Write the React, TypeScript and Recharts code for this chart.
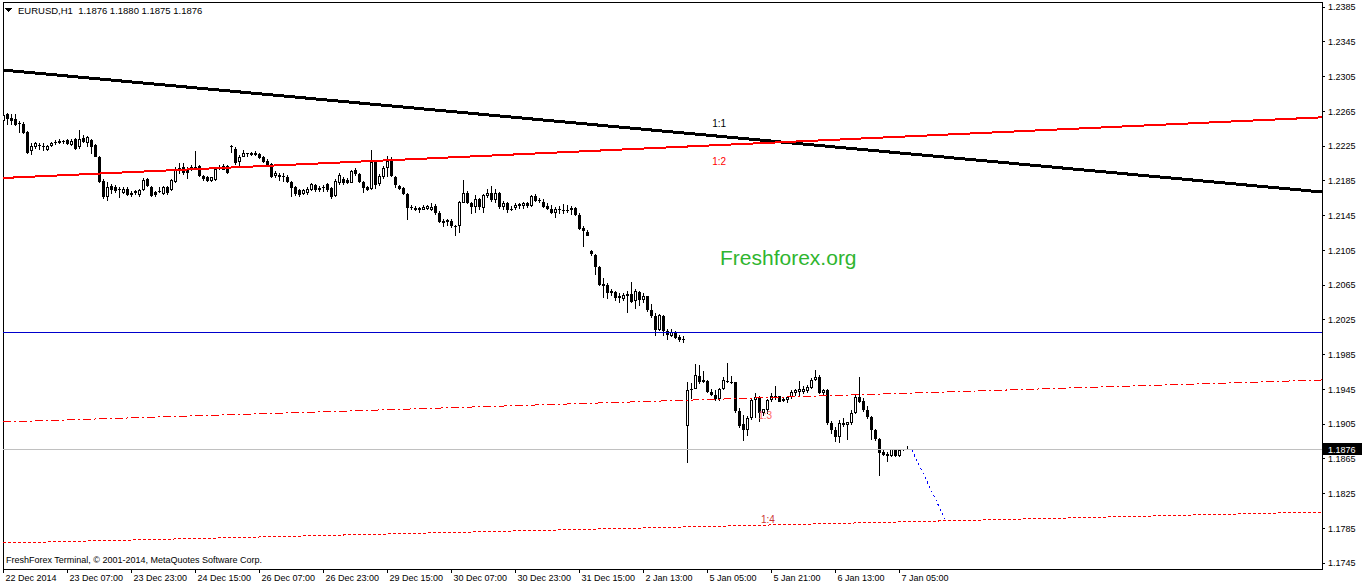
import React from 'react';
import { Bar, ComposedChart, ReferenceArea, ReferenceDot, ReferenceLine, XAxis, YAxis } from 'recharts';

const opens = [
  1.2254, 1.2262, 1.2257, 1.2256, 1.2251, 1.2250, 1.2241, 1.2219, 1.2224, 1.2226,
  1.2225, 1.2220, 1.2225, 1.2228, 1.2228, 1.2229, 1.2232, 1.2226, 1.2233, 1.2224,
  1.2234, 1.2229, 1.2232, 1.2226, 1.2213, 1.2185, 1.2167, 1.2179, 1.2178, 1.2175,
  1.2171, 1.2176, 1.2169, 1.2171, 1.2169, 1.2174, 1.2187, 1.2178, 1.2172, 1.2173,
  1.2170, 1.2178, 1.2174, 1.2184, 1.2196, 1.2201, 1.2199, 1.2197, 1.2198, 1.2202,
  1.2191, 1.2189, 1.2185, 1.2186, 1.2199, 1.2198, 1.2202, 1.2224, 1.2222, 1.2207,
  1.2213, 1.2215, 1.2215, 1.2217, 1.2216, 1.2212, 1.2208, 1.2204, 1.2191, 1.2192,
  1.2190, 1.2190, 1.2184, 1.2178, 1.2174, 1.2170, 1.2171, 1.2175, 1.2180, 1.2177,
  1.2176, 1.2181, 1.2177, 1.2168, 1.2182, 1.2187, 1.2186, 1.2183, 1.2197, 1.2193,
  1.2184, 1.2178, 1.2176, 1.2207, 1.2181, 1.2190, 1.2200, 1.2208, 1.2190, 1.2179,
  1.2177, 1.2170, 1.2154, 1.2152, 1.2154, 1.2152, 1.2153, 1.2151, 1.2156, 1.2148,
  1.2137, 1.2140, 1.2139, 1.2133, 1.2133, 1.2160, 1.2171, 1.2159, 1.2155, 1.2164,
  1.2154, 1.2168, 1.2171, 1.2163, 1.2171, 1.2155, 1.2160, 1.2151, 1.2154, 1.2156,
  1.2156, 1.2160, 1.2156, 1.2168, 1.2162, 1.2161, 1.2156, 1.2153, 1.2148, 1.2153,
  1.2152, 1.2150, 1.2154, 1.2154, 1.2146, 1.2131, 1.2126, 1.2104, 1.2100, 1.2086,
  1.2066, 1.2065, 1.2056, 1.2057, 1.2050, 1.2049, 1.2052, 1.2055, 1.2047, 1.2057,
  1.2048, 1.2052, 1.2036, 1.2030, 1.2013, 1.2030, 1.2012, 1.2007, 1.2011, 1.2005,
  1.2003, 1.1903, 1.1944, 1.1946, 1.1961, 1.1953, 1.1955, 1.1942, 1.1939, 1.1934,
  1.1946, 1.1955, 1.1954, 1.1953, 1.1920, 1.1905, 1.1898, 1.1912, 1.1933, 1.1935,
  1.1918, 1.1921, 1.1933, 1.1936, 1.1937, 1.1932, 1.1933, 1.1936, 1.1941, 1.1942,
  1.1942, 1.1943, 1.1947, 1.1956, 1.1959, 1.1941, 1.1944, 1.1906, 1.1898, 1.1890,
  1.1906, 1.1904, 1.1906, 1.1918, 1.1936, 1.1932, 1.1921, 1.1913, 1.1898, 1.1888,
  1.1873, 1.1871, 1.1868, 1.1876, 1.1868, 1.1875, 1.1876,
];

const highs = [
  1.2263, 1.2263, 1.2262, 1.2262, 1.2254, 1.2253, 1.2242, 1.2229, 1.2230, 1.2229,
  1.2228, 1.2226, 1.2230, 1.2232, 1.2233, 1.2232, 1.2233, 1.2233, 1.2234, 1.2244,
  1.2238, 1.2237, 1.2233, 1.2227, 1.2214, 1.2187, 1.2184, 1.2181, 1.2180, 1.2178,
  1.2178, 1.2178, 1.2173, 1.2174, 1.2176, 1.2188, 1.2188, 1.2179, 1.2173, 1.2178,
  1.2179, 1.2179, 1.2187, 1.2201, 1.2205, 1.2206, 1.2201, 1.2203, 1.2219, 1.2203,
  1.2192, 1.2191, 1.2190, 1.2201, 1.2203, 1.2204, 1.2203, 1.2226, 1.2224, 1.2215,
  1.2220, 1.2217, 1.2218, 1.2219, 1.2217, 1.2214, 1.2210, 1.2205, 1.2196, 1.2194,
  1.2194, 1.2192, 1.2185, 1.2179, 1.2176, 1.2176, 1.2178, 1.2182, 1.2181, 1.2179,
  1.2180, 1.2182, 1.2178, 1.2187, 1.2194, 1.2190, 1.2188, 1.2197, 1.2200, 1.2194,
  1.2185, 1.2179, 1.2220, 1.2208, 1.2193, 1.2202, 1.2214, 1.2213, 1.2191, 1.2180,
  1.2178, 1.2171, 1.2157, 1.2156, 1.2155, 1.2157, 1.2157, 1.2160, 1.2158, 1.2150,
  1.2141, 1.2141, 1.2141, 1.2134, 1.2162, 1.2186, 1.2173, 1.2161, 1.2169, 1.2165,
  1.2170, 1.2176, 1.2179, 1.2176, 1.2172, 1.2162, 1.2161, 1.2156, 1.2159, 1.2160,
  1.2161, 1.2161, 1.2169, 1.2170, 1.2165, 1.2164, 1.2160, 1.2157, 1.2155, 1.2156,
  1.2158, 1.2157, 1.2156, 1.2155, 1.2148, 1.2133, 1.2128, 1.2106, 1.2101, 1.2087,
  1.2073, 1.2067, 1.2061, 1.2058, 1.2056, 1.2056, 1.2058, 1.2069, 1.2060, 1.2058,
  1.2056, 1.2053, 1.2043, 1.2033, 1.2032, 1.2031, 1.2014, 1.2014, 1.2012, 1.2008,
  1.2006, 1.1953, 1.1952, 1.1974, 1.1973, 1.1966, 1.1956, 1.1945, 1.1944, 1.1947,
  1.1959, 1.1975, 1.1960, 1.1954, 1.1924, 1.1916, 1.1914, 1.1935, 1.1941, 1.1937,
  1.1923, 1.1934, 1.1941, 1.1949, 1.1938, 1.1936, 1.1938, 1.1944, 1.1946, 1.1955,
  1.1949, 1.1950, 1.1958, 1.1967, 1.1962, 1.1945, 1.1945, 1.1909, 1.1902, 1.1910,
  1.1912, 1.1908, 1.1921, 1.1939, 1.1959, 1.1935, 1.1926, 1.1914, 1.1899, 1.1889,
  1.1876, 1.1873, 1.1877, 1.1877, 1.1876, 1.1877, 1.1880,
];

const lows = [
  1.2251, 1.2249, 1.2249, 1.2248, 1.2240, 1.2239, 1.2216, 1.2215, 1.2222, 1.2221,
  1.2219, 1.2219, 1.2224, 1.2226, 1.2227, 1.2227, 1.2226, 1.2225, 1.2221, 1.2222,
  1.2228, 1.2224, 1.2216, 1.2212, 1.2183, 1.2164, 1.2162, 1.2170, 1.2171, 1.2165,
  1.2170, 1.2168, 1.2166, 1.2169, 1.2167, 1.2173, 1.2178, 1.2167, 1.2167, 1.2171,
  1.2169, 1.2169, 1.2173, 1.2183, 1.2193, 1.2192, 1.2187, 1.2196, 1.2197, 1.2189,
  1.2185, 1.2184, 1.2184, 1.2185, 1.2197, 1.2197, 1.2193, 1.2217, 1.2203, 1.2202,
  1.2212, 1.2213, 1.2214, 1.2214, 1.2210, 1.2206, 1.2202, 1.2188, 1.2188, 1.2185,
  1.2184, 1.2183, 1.2167, 1.2168, 1.2167, 1.2169, 1.2169, 1.2173, 1.2172, 1.2172,
  1.2172, 1.2172, 1.2164, 1.2166, 1.2180, 1.2180, 1.2181, 1.2182, 1.2191, 1.2182,
  1.2171, 1.2173, 1.2175, 1.2176, 1.2179, 1.2187, 1.2190, 1.2189, 1.2177, 1.2175,
  1.2169, 1.2140, 1.2151, 1.2150, 1.2148, 1.2151, 1.2151, 1.2150, 1.2146, 1.2136,
  1.2132, 1.2133, 1.2131, 1.2122, 1.2125, 1.2159, 1.2158, 1.2147, 1.2148, 1.2152,
  1.2148, 1.2165, 1.2161, 1.2160, 1.2153, 1.2152, 1.2148, 1.2150, 1.2152, 1.2153,
  1.2153, 1.2154, 1.2155, 1.2161, 1.2159, 1.2154, 1.2151, 1.2147, 1.2142, 1.2147,
  1.2147, 1.2148, 1.2146, 1.2144, 1.2128, 1.2109, 1.2121, 1.2098, 1.2077, 1.2064,
  1.2050, 1.2049, 1.2052, 1.2047, 1.2044, 1.2047, 1.2033, 1.2044, 1.2037, 1.2041,
  1.2044, 1.2034, 1.2027, 1.2006, 1.2012, 1.2006, 1.2002, 1.2005, 1.2003, 1.2000,
  1.1999, 1.1860, 1.1934, 1.1945, 1.1951, 1.1952, 1.1941, 1.1937, 1.1932, 1.1932,
  1.1944, 1.1952, 1.1951, 1.1918, 1.1901, 1.1886, 1.1891, 1.1910, 1.1912, 1.1908,
  1.1914, 1.1917, 1.1931, 1.1933, 1.1930, 1.1930, 1.1929, 1.1934, 1.1937, 1.1937,
  1.1940, 1.1941, 1.1945, 1.1955, 1.1940, 1.1939, 1.1904, 1.1894, 1.1885, 1.1883,
  1.1902, 1.1887, 1.1904, 1.1917, 1.1929, 1.1919, 1.1911, 1.1887, 1.1886, 1.1845,
  1.1868, 1.1862, 1.1867, 1.1867, 1.1867, 1.1874, 1.1875,
];

const closes = [
  1.2261, 1.2256, 1.2254, 1.2249, 1.2250, 1.2240, 1.2217, 1.2225, 1.2229, 1.2225,
  1.2224, 1.2225, 1.2229, 1.2230, 1.2231, 1.2230, 1.2227, 1.2231, 1.2222, 1.2233,
  1.2230, 1.2235, 1.2224, 1.2213, 1.2184, 1.2167, 1.2178, 1.2174, 1.2173, 1.2174,
  1.2176, 1.2169, 1.2171, 1.2173, 1.2174, 1.2186, 1.2179, 1.2168, 1.2169, 1.2172,
  1.2178, 1.2171, 1.2186, 1.2197, 1.2200, 1.2194, 1.2194, 1.2201, 1.2201, 1.2191,
  1.2187, 1.2185, 1.2189, 1.2199, 1.2201, 1.2202, 1.2194, 1.2225, 1.2205, 1.2213,
  1.2217, 1.2216, 1.2217, 1.2215, 1.2211, 1.2207, 1.2203, 1.2190, 1.2194, 1.2190,
  1.2189, 1.2184, 1.2177, 1.2170, 1.2169, 1.2174, 1.2176, 1.2181, 1.2174, 1.2174,
  1.2177, 1.2175, 1.2166, 1.2185, 1.2192, 1.2182, 1.2183, 1.2196, 1.2193, 1.2184,
  1.2177, 1.2175, 1.2207, 1.2180, 1.2191, 1.2200, 1.2208, 1.2191, 1.2180, 1.2176,
  1.2170, 1.2154, 1.2153, 1.2154, 1.2151, 1.2155, 1.2156, 1.2155, 1.2148, 1.2138,
  1.2139, 1.2138, 1.2133, 1.2132, 1.2161, 1.2171, 1.2159, 1.2155, 1.2164, 1.2155,
  1.2169, 1.2171, 1.2163, 1.2171, 1.2155, 1.2160, 1.2151, 1.2153, 1.2157, 1.2158,
  1.2160, 1.2156, 1.2168, 1.2162, 1.2161, 1.2155, 1.2153, 1.2148, 1.2153, 1.2151,
  1.2150, 1.2152, 1.2152, 1.2146, 1.2130, 1.2127, 1.2122, 1.2101, 1.2086, 1.2065,
  1.2064, 1.2056, 1.2058, 1.2050, 1.2052, 1.2054, 1.2055, 1.2046, 1.2058, 1.2048,
  1.2053, 1.2036, 1.2029, 1.2013, 1.2031, 1.2012, 1.2008, 1.2011, 1.2004, 1.2002,
  1.2002, 1.1944, 1.1946, 1.1962, 1.1953, 1.1956, 1.1942, 1.1939, 1.1934, 1.1946,
  1.1956, 1.1953, 1.1952, 1.1920, 1.1903, 1.1898, 1.1912, 1.1933, 1.1936, 1.1918,
  1.1922, 1.1933, 1.1938, 1.1937, 1.1931, 1.1934, 1.1936, 1.1942, 1.1944, 1.1945,
  1.1945, 1.1948, 1.1956, 1.1959, 1.1941, 1.1944, 1.1906, 1.1898, 1.1890, 1.1906,
  1.1904, 1.1907, 1.1918, 1.1936, 1.1931, 1.1921, 1.1913, 1.1898, 1.1888, 1.1872,
  1.1870, 1.1868, 1.1876, 1.1868, 1.1875, 1.1876, 1.1876,
];

const timeTicks = [0, 16, 32, 48, 64, 80, 96, 112, 128, 144, 160, 176, 192, 208, 224];
const timeLabels = [
  '22 Dec 2014', '23 Dec 07:00', '23 Dec 23:00', '24 Dec 15:00', '26 Dec 07:00',
  '26 Dec 23:00', '29 Dec 15:00', '30 Dec 07:00', '30 Dec 23:00', '31 Dec 15:00',
  '2 Jan 13:00', '5 Jan 05:00', '5 Jan 21:00', '6 Jan 13:00', '7 Jan 05:00',
];
const priceTicks = [
  1.2385, 1.2345, 1.2305, 1.2265, 1.2225, 1.2185, 1.2145, 1.2105, 1.2065,
  1.2025, 1.1985, 1.1945, 1.1905, 1.1865, 1.1825, 1.1785, 1.1745,
];

const lastPrice = 1.1876;
const levelPrice = 1.201;

// drawn objects: bar index / price pairs
const fan11 = [{ x: -0.125, y: 1.23125 }, { x: 329.625, y: 1.21722 }];
const fan12 = [{ x: -0.125, y: 1.21883 }, { x: 329.625, y: 1.22581 }];
const fan13 = [{ x: -0.125, y: 1.19076 }, { x: 329.625, y: 1.19559 }];
const fan14 = [{ x: -0.125, y: 1.17683 }, { x: 329.625, y: 1.1804 }];
const forecast = [{ x: 227.1, y: 1.18753 }, { x: 235.6, y: 1.17937 }];

const X_MIN = -0.125;
const X_MAX = 329.625;
const Y_MIN = 1.17384;
const Y_MAX = 1.23908;

const FONT = '"Liberation Sans", Arial, sans-serif';

const data = opens.map((o, i) => ({ i, o, h: highs[i], l: lows[i], c: closes[i] }));

function Candle(props: any) {
  const { x, y, width, height, payload } = props;
  if (x == null || !payload) return null;
  const top = Math.min(y, y + height);
  const h = Math.abs(height);
  const { o, c } = payload;
  const hi = payload.h;
  const lo = payload.l;
  const py = (p: number) => top + ((hi - p) / (hi - lo)) * h;
  const cx = x + width / 2;
  const bTop = py(Math.max(o, c));
  const bBot = py(Math.min(o, c));
  const up = c > o;
  let body;
  if (bBot - bTop < 1) {
    body = <line x1={cx - 1.5} x2={cx + 1.5} y1={bTop} y2={bTop} stroke="#000" />;
  } else if (up) {
    body = <rect x={cx - 1} y={bTop + 0.5} width={2} height={Math.max(0, bBot - bTop - 1)} fill="#fff" stroke="#000" />;
  } else {
    body = <rect x={cx - 1.5} y={bTop} width={3} height={bBot - bTop} fill="#000" />;
  }
  return (
    <g>
      <line x1={cx} x2={cx} y1={top} y2={top + h} stroke="#000" />
      {body}
    </g>
  );
}

function TimeTick({ x, y, payload }: any) {
  const k = timeTicks.indexOf(payload.value);
  return (
    <text x={x + 2} y={y + 6} fontSize={9} fontFamily={FONT} fill="#000" textAnchor="start">
      {timeLabels[k]}
    </text>
  );
}

function PriceTag({ viewBox }: any) {
  if (!viewBox) return null;
  const x = viewBox.x + viewBox.width;
  const y = viewBox.y;
  return (
    <g>
      <rect x={x + 1} y={y - 6} width={39} height={12} fill="#000" />
      <text x={x + 6} y={y + 3.5} fontSize={9} fontFamily={FONT} fill="#fff">
        {lastPrice.toFixed(4)}
      </text>
    </g>
  );
}

function tag(text: string, color: string) {
  return { value: text, position: 'center' as const, fill: color, fontSize: 10, fontFamily: FONT };
}

export default function App() {
  return (
    <div style={{ position: 'relative', width: 1362, height: 586, background: '#fff', shapeRendering: 'crispEdges' }}>
      <style>{'body{margin:0}'}</style>
      <div
        style={{
          position: 'absolute', left: 720, top: 246, fontSize: 21, fontFamily: FONT, color: '#2fb52f',
        }}
      >
        Freshforex.org
      </div>
      <ComposedChart
        width={1362}
        height={586}
        data={data}
        margin={{ top: 2, right: 0, left: 3, bottom: 0 }}
        style={{ position: 'absolute', left: 0, top: 0 }}
      >
        <ReferenceArea x1={X_MIN} x2={X_MAX} y1={Y_MIN} y2={Y_MAX} fill="none" stroke="#000" ifOverflow="visible" />
        <XAxis
          type="number"
          dataKey="i"
          domain={[X_MIN, X_MAX]}
          allowDataOverflow
          ticks={timeTicks}
          tick={<TimeTick />}
          tickSize={4}
          height={17}
          axisLine={{ stroke: '#000' }}
          tickLine={{ stroke: '#000' }}
          interval={0}
        />
        <YAxis
          orientation="right"
          type="number"
          domain={[Y_MIN, Y_MAX]}
          allowDataOverflow
          ticks={priceTicks}
          tickFormatter={(v: number) => v.toFixed(4)}
          tick={{ fontSize: 9, fill: '#000', fontFamily: FONT }}
          tickSize={3}
          tickMargin={3}
          width={40}
          axisLine={{ stroke: '#000' }}
          tickLine={{ stroke: '#000' }}
          interval={0}
        />
        <ReferenceLine y={levelPrice} stroke="#0000cc" />
        <ReferenceLine y={lastPrice} stroke="#c0c0c0" label={<PriceTag />} />
        <Bar
          dataKey={(d: any) => [d.l, d.h]}
          barSize={3}
          shape={<Candle />}
          isAnimationActive={false}
        />
        <ReferenceLine segment={fan11} stroke="#000" strokeWidth={3} />
        <ReferenceLine segment={fan12} stroke="#ff0000" strokeWidth={2} />
        <ReferenceLine segment={fan13} stroke="#ff0000" strokeDasharray="8 3 2 3" />
        <ReferenceLine segment={fan14} stroke="#ff0000" strokeDasharray="3 2" />
        <ReferenceLine segment={forecast} stroke="#0000ff" strokeDasharray="2 3" />
        <ReferenceDot x={178.9} y={1.22515} r={1} fill="none" stroke="none" label={tag('1:1', '#000')} />
        <ReferenceDot x={178.9} y={1.22078} r={1} fill="none" stroke="none" label={tag('1:2', '#ff0000')} />
        <ReferenceDot x={190.4} y={1.19156} r={1} fill="none" stroke="none" label={tag('1:3', '#ff6060')} />
        <ReferenceDot x={191.1} y={1.17959} r={1} fill="none" stroke="none" label={tag('1:4', '#cc3333')} />
      </ComposedChart>
      <div
        style={{
          position: 'absolute', left: 5, top: 5, fontSize: 9.5, fontFamily: FONT, color: '#000',
          display: 'flex', alignItems: 'center', whiteSpace: 'pre',
        }}
      >
        <svg width={8} height={6} style={{ marginRight: 5 }}>
          <polygon points="0,0 7,0 3.5,4" fill="#000" />
        </svg>
        {'EURUSD,H1  1.1876 1.1880 1.1875 1.1876'}
      </div>
      <div
        style={{
          position: 'absolute', left: 6, top: 555, fontSize: 9, fontFamily: FONT, color: '#000', whiteSpace: 'pre',
        }}
      >
        FreshForex Terminal, © 2001-2014, MetaQuotes Software Corp.
      </div>
    </div>
  );
}
